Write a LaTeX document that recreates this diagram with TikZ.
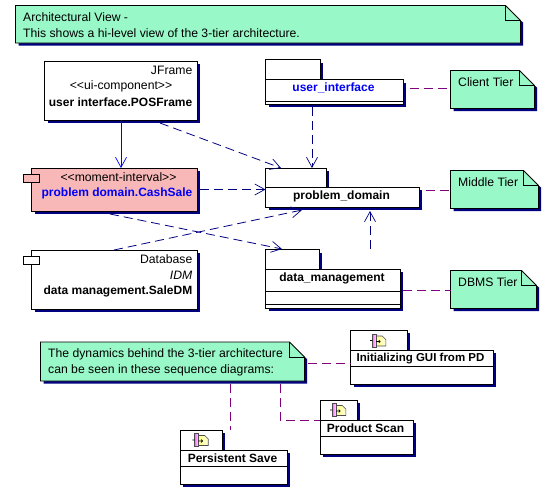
\documentclass[tikz,border=0pt]{standalone}
\usepackage{fontspec}
\setmainfont{Liberation Sans}
\usetikzlibrary{arrows.meta,calc}
\definecolor{noteg}{RGB}{153,248,200}
\definecolor{navyc}{RGB}{0,0,128}
\definecolor{pinkc}{RGB}{248,184,184}
\definecolor{bluet}{RGB}{0,0,248}
\definecolor{purp}{RGB}{128,0,128}
\tikzset{
 x=1pt,y=-1pt,
 txt/.style={font=\fontsize{12.2}{14}\selectfont,inner sep=0pt,text=black},
 btxt/.style={txt,font=\fontsize{12}{14}\selectfont\bfseries},
 open/.style={-{Straight Barb[length=10pt,width=11pt,line width=.7pt]}},
 dep/.style={open,draw=navyc,line width=.8pt,dash pattern=on 9pt off 5pt},
 link/.style={draw=purp,line width=.8pt,dash pattern=on 9pt off 5pt},
 boxl/.style={draw=black,line width=.9pt},
}
\newcommand{\shbox}[6]{%
 \fill[navyc] (#2+3,#3+3) rectangle (#4+2.5,#5+2.5);
 \fill[#6,boxl] (#2,#3) rectangle (#4,#5);
 \node[inner sep=0pt,outer sep=0pt,minimum width=#4pt-#2pt,minimum height=#5pt-#3pt] (#1) at ({(#2+#4)/2},{(#3+#5)/2}) {};}
\newcommand{\notebox}[6]{%
 \fill[navyc] (#2+3,#3+3) -- (#4-#6+3,#3+3) -- (#4+2.5,#3+#6+2) -- (#4+2.5,#5+2.5) -- (#2+3,#5+2.5) -- cycle;
 \fill[white] (#4-#6,#3) rectangle (#4+1,#3+#6);
 \fill[noteg,boxl] (#2,#3) -- (#4-#6,#3) -- (#4,#3+#6) -- (#4,#5) -- (#2,#5) -- cycle;
 \draw[boxl] (#4-#6,#3) -- (#4-#6,#3+#6) -- (#4,#3+#6);
 \node[inner sep=0pt,outer sep=0pt,minimum width=#4pt-#2pt,minimum height=#5pt-#3pt] (#1) at ({(#2+#4)/2},{(#3+#5)/2}) {};}
\newcommand{\pkg}[8]{%
 \fill[navyc] (#2+3,#3+3) rectangle (#4+2.5,#5+3);
 \fill[navyc] (#2+3,#5+3) rectangle (#6+2.5,#7+2.5);
 \fill[#8,boxl] (#2,#3) rectangle (#4,#5);
 \fill[#8,boxl] (#2,#5) rectangle (#6,#7);
 \node[inner sep=0pt,outer sep=0pt,minimum width=#6pt-#2pt,minimum height=#7pt-#5pt] (#1) at ({(#2+#6)/2},{(#5+#7)/2}) {};}
\newcommand{\seqicon}[2]{%
 \begin{scope}[shift={(#1,#2)}]
 \draw[left color=yellow!45!white,right color=yellow!15!white,draw=black!70,line width=.6pt] (3.7,2) -- (10,2) -- (13.5,5.5) -- (13.5,12) -- (3.7,12) -- cycle;
 \draw[left color=magenta!60!white,right color=magenta!10!white,draw=black!70,line width=.6pt] (0,0) rectangle (3.7,13);
 \draw[black,line width=.6pt] (-2.3,6.5) -- (0,6.5) (3.7,7.5) -- (8,7.5) (6.5,6) -- (8,7.5) -- (6.5,9);
 \end{scope}}
\begin{document}
\begin{tikzpicture}
\useasboundingbox (0,0) rectangle (551,488);
\fill[white] (0,0) rectangle (551,488);
\notebox{topnote}{15.5}{5.5}{520.5}{43}{15}
\node[txt,anchor=west] (t1) at (23,17.5) {Architectural View -};
\node[txt,anchor=west] (t2) at (23,33.5) {This shows a hi-level view of the 3-tier architecture.};
\shbox{jf}{44.5}{61}{197.5}{120}{white}
\node[txt,anchor=east] (jf1) at (192.5,70.5) {JFrame};
\node[txt] (jf2) at (121,86.5) {<{}<ui-component>{}>};
\node[btxt,anchor=east] (jf3) at (192.5,102.5) {user interface.POSFrame};
\shbox{cs}{31.5}{168}{197.5}{211}{pinkc}
\fill[pinkc,boxl] (23.5,174.5) rectangle (39.5,182.5);
\node[txt] (cs1) at (118.5,177.5) {<{}<moment-interval>{}>};
\node[btxt,anchor=east,text=bluet] (cs2) at (192.5,193.5) {problem domain.CashSale};
\shbox{dm}{31.5}{250}{197.5}{309}{white}
\fill[white,boxl] (23.5,256.5) rectangle (39.5,264.5);
\node[txt,anchor=east] (dm1) at (192.5,259.5) {Database};
\node[txt,anchor=east,font=\fontsize{12.2}{14}\selectfont\itshape] (dm2) at (192.5,275.5) {IDM};
\node[btxt,anchor=east] (dm3) at (192.5,291.5) {data management.SaleDM};
\pkg{ui}{265.5}{59.5}{320.5}{79.5}{403.5}{104}{white}
\draw[boxl] (265.5,101) -- (403.5,101);
\node[btxt,text=bluet] (uit) at (333.5,88) {user\_interface};
\pkg{pd}{265.5}{168}{326.5}{187}{419.5}{207}{white}
\node[btxt] (pdt) at (341.5,196) {problem\_domain};
\pkg{dp}{265.5}{249.5}{319.5}{269}{400.5}{308}{white}
\draw[boxl] (265.5,291.5) -- (400.5,291.5) (265.5,304) -- (400.5,304);
\node[btxt] (dpt) at (332,278) {data\_management};
\notebox{n1}{450.5}{70.5}{534.5}{108.5}{15}
\node[txt,anchor=west] (n1t) at (458,82.5) {Client Tier};
\notebox{n2}{450.5}{170.5}{538.5}{208.5}{15}
\node[txt,anchor=west] (n2t) at (458,182.5) {Middle Tier};
\notebox{n3}{450.5}{270.5}{536.5}{308.5}{15}
\node[txt,anchor=west] (n3t) at (458,282.5) {DBMS Tier};
\notebox{n4}{40.5}{342}{304.5}{381}{15}
\node[txt,anchor=west] (n4a) at (48,354.5) {The dynamics behind the 3-tier architecture};
\node[txt,anchor=west] (n4b) at (48,370.5) {can be seen in these sequence diagrams:};
\pkg{s1}{350.5}{330}{407}{350}{493.5}{384.3}{white}
\draw[boxl] (350.5,366.3) -- (493.5,366.3);
\node[btxt,font=\fontsize{11.5}{14}\selectfont\bfseries] (s1t) at (420.5,358.5) {Initializing GUI from PD};
\seqicon{372.3}{334}
\pkg{s2}{320}{400}{357}{420}{413.5}{454}{white}
\draw[boxl] (320,436) -- (413.5,436);
\node[btxt] (s2t) at (365.5,428.5) {Product Scan};
\seqicon{332.3}{403.5}
\pkg{s3}{180}{430}{222.5}{450}{287}{484}{white}
\draw[boxl] (180,466) -- (287,466);
\node[btxt] (s3t) at (232.5,458.5) {Persistent Save};
\seqicon{194.7}{433.5}
% note links
\draw[link] ([xshift=6.5pt,yshift=3.75pt]ui.east) -- ([yshift=1.5pt]n1.west);
\draw[link] ([xshift=6pt,yshift=7pt]pd.east) -- ([yshift=-.5pt]n2.west);
\draw[link] ([xshift=2.5pt,yshift=-1.5pt]dp.east) -- ([yshift=-.5pt]n3.west);
\draw[link] ([xshift=3pt,yshift=-1.5pt]n4.east) -- ([yshift=4.15pt]s1.west);
\draw[link] ([xshift=57.5pt,yshift=-3pt]n4.south) -- ([xshift=-3.5pt,yshift=20pt]s3.north);
\draw[link] ([xshift=107.5pt,yshift=-3pt]n4.south) |- ([yshift=17pt]s2.west);
% dependencies
\draw[open,draw=bluet,line width=.8pt] (jf.south) -- (jf.south |- cs.north);
\draw[dep] ([xshift=39pt,yshift=-3pt]jf.south) -- ([xshift=-61.5pt,yshift=19pt]pd.north);
\draw[dep] ([xshift=2.5pt]cs.east) -- ([yshift=7.5pt]pd.west);
\draw[dep] ([xshift=-4.5pt,yshift=-3pt]cs.south) -- ([xshift=-51pt,yshift=20pt]dp.north);
\draw[dep] ([xshift=-.5pt]dm.north) -- ([xshift=-40.5pt,yshift=-3pt]pd.south);
\draw[dep] ([xshift=-22.5pt,yshift=-3pt]ui.south) -- ([xshift=-30.5pt,yshift=19pt]pd.north);
\draw[dep] ([xshift=37pt,yshift=20pt]dp.north) -- ([xshift=27.5pt,yshift=-4pt]pd.south);
\end{tikzpicture}
\end{document}
